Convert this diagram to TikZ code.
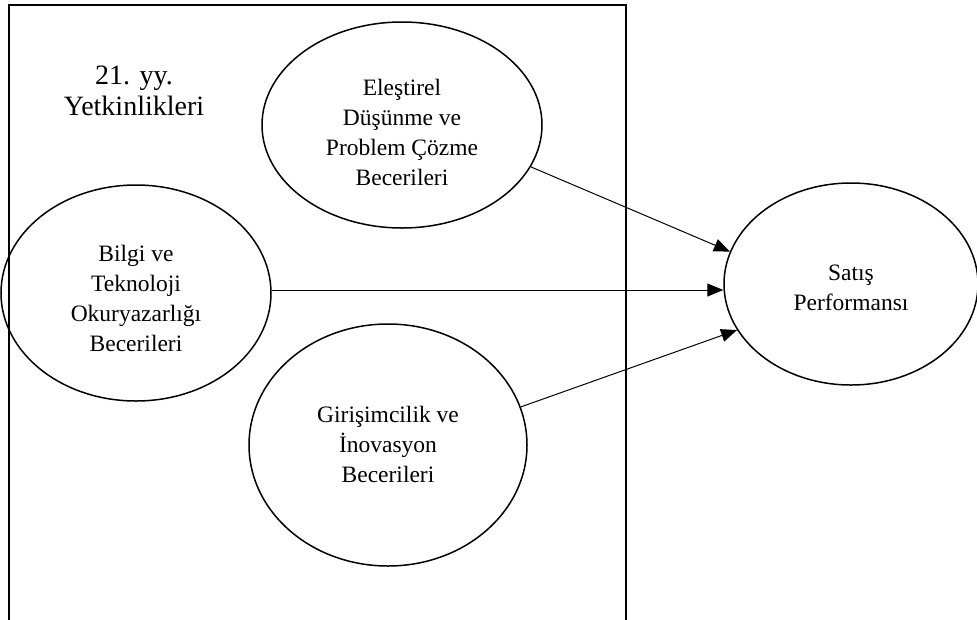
\documentclass[tikz,border=0pt]{standalone}
\usepackage{fontspec}
\setmainfont{Liberation Serif}
\usetikzlibrary{arrows.meta,shapes.geometric}
\begin{document}
\begin{tikzpicture}[x=1pt,y=-1pt,
  ell/.style={draw,ellipse,line width=1.5pt,inner sep=0pt},
  txt/.style={align=center,font=\fontsize{23.5}{30}\selectfont},
  arr/.style={draw,line width=1pt,-{Triangle[length=16pt,width=13pt]}},
  frame/.style={draw,line width=1.5pt}]
\useasboundingbox (0,0) rectangle (977,619);
\clip (0,0) rectangle (977,619);
\draw[frame] (9,5) rectangle (626,640);
\node[align=center,font=\fontsize{28}{31}\selectfont] (title) at (134,91) {21. yy.\\Yetkinlikleri};
\node[ell,minimum width=280pt,minimum height=206pt] (e1) at (402,125) {};
\node[txt] (t1) at (402,132) {Eleştirel\\Düşünme ve\\Problem Çözme\\Becerileri};
\node[ell,minimum width=270pt,minimum height=216pt] (e2) at (136,293) {};
\node[txt] (t2) at (136,298) {Bilgi ve\\Teknoloji\\Okuryazarlığı\\Becerileri};
\node[ell,minimum width=278pt,minimum height=242pt] (e3) at (388,445) {};
\node[txt] (t3) at (388,444) {Girişimcilik ve\\İnovasyon\\Becerileri};
\node[ell,minimum width=254pt,minimum height=202pt] (e4) at (851,284) {};
\node[txt] (t4) at (851,288) {Satış\\Performansı};
\draw[arr] (e1.-18) -- (e4.165.5);
\draw[arr] ([yshift=3pt]e2.east) -- ([yshift=3pt]e2.east -| e4.west);
\draw[arr] (e3.16.5) -- (e4.202.5);
\end{tikzpicture}
\end{document}
